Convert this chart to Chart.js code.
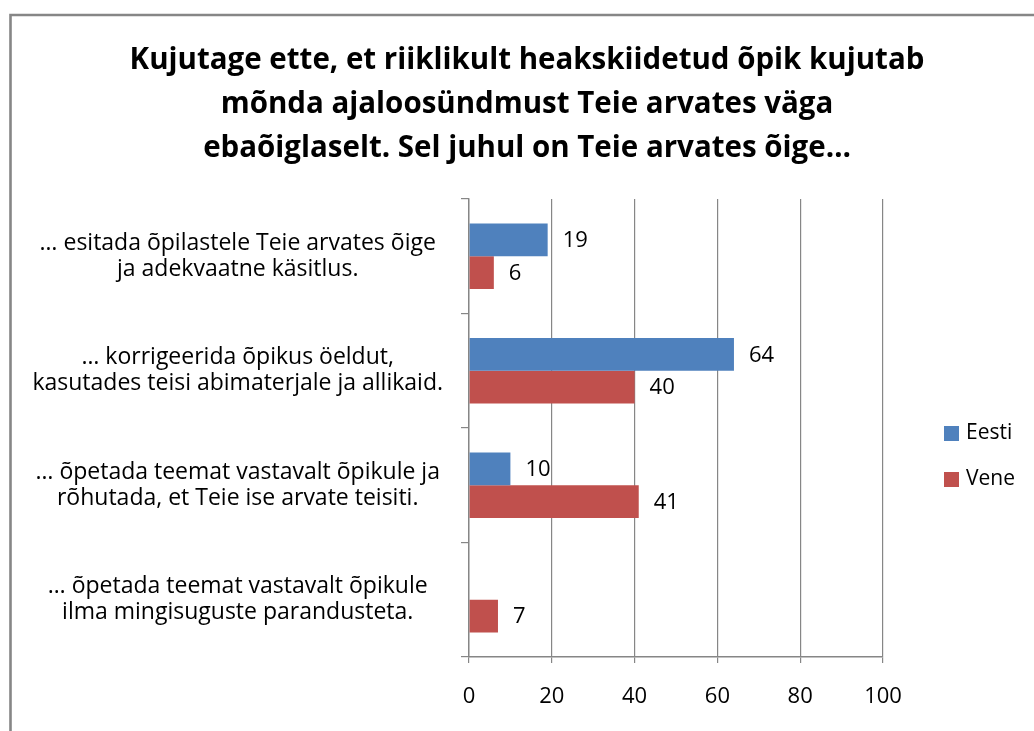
<!DOCTYPE html>
<html><head><meta charset="utf-8">
<script src="https://cdn.jsdelivr.net/npm/chart.js@4/dist/chart.umd.min.js"></script>
<style>html,body{margin:0;padding:0;background:#fff;}#wrap{width:1034px;height:731px;position:relative}</style>
</head><body><div id="wrap"><canvas id="c" width="1034" height="731"></canvas></div>
<script>
const titleLines = [
  "Kujutage ette, et riiklikult heakskiidetud õpik kujutab",
  "mõnda ajaloosündmust Teie arvates väga",
  "ebaõiglaselt. Sel juhul on Teie arvates õige…"
];
const categories = [
  ["… esitada õpilastele Teie arvates õige", "ja adekvaatne käsitlus."],
  ["… korrigeerida õpikus öeldut,", "kasutades teisi abimaterjale ja allikaid."],
  ["… õpetada teemat vastavalt õpikule ja", "rõhutada, et Teie ise arvate teisiti."],
  ["… õpetada teemat vastavalt õpikule", "ilma mingisuguste parandusteta."]
];
const seriesNames = ["Eesti", "Vene"];
const eesti = [19, 64, 10, null];
const vene = [6, 40, 41, 7];
const xMin = 0, xMax = 100, xStep = 20;

const FONT = '"Open Sans", "Noto Sans", sans-serif';
const GRID = '#868686';
const COLORS = ['#4F81BD', '#C0504D'];

const framePlugin = {
  id: 'frame',
  beforeDraw(chart) {
    const ctx = chart.ctx;
    ctx.save();
    ctx.fillStyle = '#fff';
    ctx.fillRect(0, 0, chart.width, chart.height);
    ctx.strokeStyle = GRID;
    ctx.lineWidth = 2.6;
    ctx.beginPath();
    ctx.moveTo(10.5, chart.height);
    ctx.lineTo(10.5, 15);
    ctx.lineTo(chart.width, 15);
    ctx.stroke();
    ctx.restore();
  }
};

const valueLabels = {
  id: 'valueLabels',
  afterDatasetsDraw(chart) {
    const ctx = chart.ctx;
    ctx.save();
    ctx.font = '22px ' + FONT;
    ctx.fillStyle = '#000';
    ctx.textAlign = 'left';
    ctx.textBaseline = 'middle';
    chart.data.datasets.forEach((ds, i) => {
      const meta = chart.getDatasetMeta(i);
      meta.data.forEach((bar, j) => {
        const v = ds.data[j];
        if (v === null || v === undefined) return;
        ctx.fillText(String(v), bar.x + 15, bar.y + 1);
      });
    });
    ctx.restore();
  }
};

const legendPlugin = {
  id: 'sideLegend',
  afterDraw(chart) {
    const ctx = chart.ctx;
    const a = chart.chartArea;
    ctx.save();
    ctx.font = '21px ' + FONT;
    ctx.textBaseline = 'middle';
    ctx.textAlign = 'left';
    const ys = [433, 479];
    chart.data.datasets.forEach((ds, i) => {
      const y = ys[i];
      ctx.fillStyle = ds.backgroundColor;
      ctx.fillRect(a.right + 61, y - 7, 15, 15);
      ctx.fillStyle = '#000';
      ctx.fillText(ds.label, a.right + 83, y);
    });
    ctx.restore();
  }
};

new Chart(document.getElementById('c'), {
  type: 'bar',
  data: {
    labels: categories,
    datasets: [
      { label: seriesNames[0], data: eesti, backgroundColor: COLORS[0], categoryPercentage: 0.572, barPercentage: 1 },
      { label: seriesNames[1], data: vene, backgroundColor: COLORS[1], categoryPercentage: 0.572, barPercentage: 1 }
    ]
  },
  options: {
    indexAxis: 'y',
    responsive: false,
    animation: false,
    layout: { padding: { left: 20, right: 0, top: 0, bottom: 0 } },
    plugins: {
      legend: { display: false },
      tooltip: { enabled: false },
      title: {
        display: true,
        text: titleLines,
        color: '#000',
        font: { family: FONT, size: 29.5, weight: 'bold', lineHeight: 44 / 29.5 },
        padding: { top: 39, bottom: 28 }
      }
    },
    scales: {
      x: {
        min: xMin, max: xMax,
        ticks: { stepSize: xStep, color: '#000', font: { family: FONT, size: 22 }, padding: 21 },
        grid: { color: GRID, lineWidth: 1.2, tickLength: 6 },
        border: { color: GRID, width: 1.4 },
        afterFit(s) { s.height = 74; }
      },
      y: {
        ticks: { crossAlign: 'center', color: '#000', font: { family: FONT, size: 23, lineHeight: 26 / 23 }, padding: 18 },
        grid: { drawOnChartArea: false, tickLength: 8, color: GRID, lineWidth: 1.2, offset: true },
        border: { color: GRID, width: 1.4 },
        afterFit(s) { s.width = 449; }
      },
      spacer: {
        type: 'linear', axis: 'y', position: 'right', display: true,
        grid: { display: false }, ticks: { display: false }, border: { display: false },
        afterFit(s) { s.width = 151; }
      }
    }
  },
  plugins: [framePlugin, valueLabels, legendPlugin]
});
</script>
</body></html>
